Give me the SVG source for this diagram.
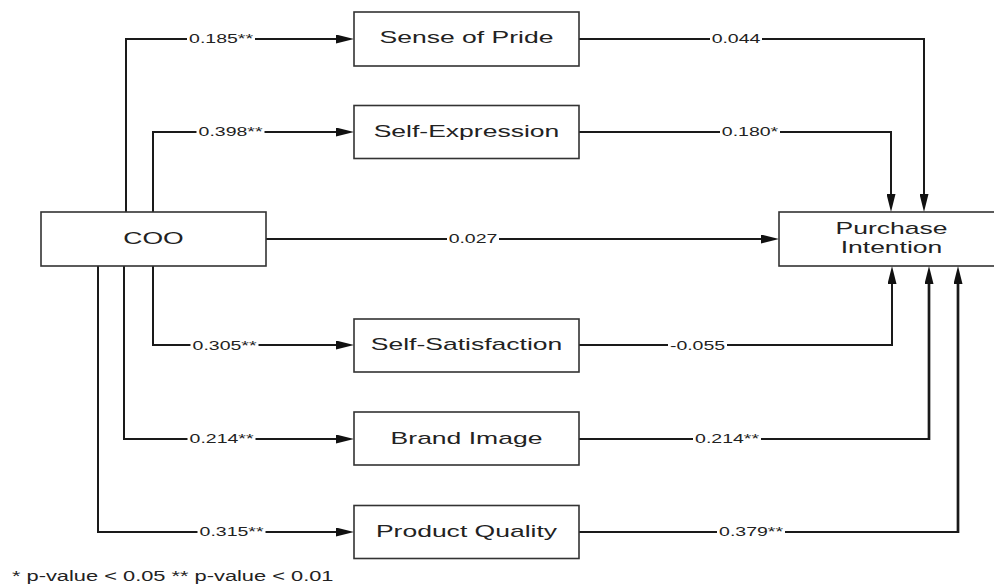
<svg xmlns="http://www.w3.org/2000/svg" width="994" height="584" viewBox="0 0 994 584">
<style>
.node{fill:#fff;stroke:#333;stroke-width:1.6}
.nt{font-family:"Liberation Sans",Arial,sans-serif;font-size:17px;fill:#222;text-anchor:middle}
.el{font-family:"Liberation Sans",Arial,sans-serif;font-size:12.5px;fill:#222;text-anchor:middle}
.ft{font-family:"Liberation Sans",Arial,sans-serif;font-size:14px;fill:#222}
.c{fill:none;stroke:#1a1a1a;stroke-width:2;marker-end:url(#arr)}
.l{fill:none;stroke:#1a1a1a;stroke-width:2}
.thick{stroke-width:2.7}
.bg{fill:#fff}
</style>
<defs>
<marker id="arr" viewBox="0 0 18 9" refX="10" refY="4.5" markerWidth="18" markerHeight="9" markerUnits="userSpaceOnUse" orient="auto">
<path d="M0,0 L18,4.5 L0,9 z" fill="#111"/>
</marker>
</defs>
<rect width="994" height="584" fill="#fff"/>
<g id="connectors">
<path class="c" d="M126,212 V39 H346"/>
<path class="c" d="M153,212 V132 H346"/>
<path class="c" d="M153,266 V345 H346"/>
<path class="c" d="M124,266 V439 H346"/>
<path class="c" d="M98,266 V532 H346"/>
<path class="c" d="M266,239 H771"/>
<path class="c" d="M579,39 H924 V204"/>
<path class="c" d="M579,132 H891 V204"/>
<path class="c" d="M579,345 H892 V274"/>
<path class="l" d="M579,439 H930"/>
<path class="c thick" d="M929,440 V274"/>
<path class="l" d="M579,532 H959"/>
<path class="c thick" d="M958,533 V274"/>
<rect class="bg" x="187" y="34" width="68" height="10"/>
<text class="el" transform="translate(221,43) scale(1.56,1)">0.185**</text>
<rect class="bg" x="196.5" y="127" width="68" height="10"/>
<text class="el" transform="translate(230.5,136) scale(1.56,1)">0.398**</text>
<rect class="bg" x="190.5" y="340" width="68" height="10"/>
<text class="el" transform="translate(224.5,349.5) scale(1.56,1)">0.305**</text>
<rect class="bg" x="187.5" y="434" width="68" height="10"/>
<text class="el" transform="translate(221.5,443) scale(1.56,1)">0.214**</text>
<rect class="bg" x="197.5" y="527" width="68" height="10"/>
<text class="el" transform="translate(231.5,536) scale(1.56,1)">0.315**</text>
<rect class="bg" x="447" y="234" width="52" height="10"/>
<text class="el" transform="translate(473,243) scale(1.56,1)">0.027</text>
<rect class="bg" x="710" y="34" width="52" height="10"/>
<text class="el" transform="translate(736,43) scale(1.56,1)">0.044</text>
<rect class="bg" x="720" y="127" width="60" height="10"/>
<text class="el" transform="translate(750,136) scale(1.56,1)">0.180*</text>
<rect class="bg" x="668" y="340" width="59" height="10"/>
<text class="el" transform="translate(697.5,349.5) scale(1.56,1)">-0.055</text>
<rect class="bg" x="693" y="434" width="68" height="10"/>
<text class="el" transform="translate(727,443) scale(1.56,1)">0.214**</text>
<rect class="bg" x="717" y="527" width="68" height="10"/>
<text class="el" transform="translate(751,536) scale(1.56,1)">0.379**</text>
</g>
<g id="coo">
<rect class="node" x="41" y="212" width="225" height="54"/>
<text class="nt" transform="translate(153.5,243.5) scale(1.56,1)">COO</text>
</g>
<g id="pride">
<rect class="node" x="354" y="12" width="225" height="54"/>
<text class="nt" transform="translate(466.5,43) scale(1.56,1)">Sense of Pride</text>
</g>
<g id="expression">
<rect class="node" x="354" y="105.5" width="225" height="53"/>
<text class="nt" transform="translate(466.5,136.5) scale(1.56,1)">Self-Expression</text>
</g>
<g id="satisfaction">
<rect class="node" x="354" y="319" width="225" height="53"/>
<text class="nt" transform="translate(466.5,350) scale(1.56,1)">Self-Satisfaction</text>
</g>
<g id="brand">
<rect class="node" x="354" y="412" width="225" height="53"/>
<text class="nt" transform="translate(466.5,443.5) scale(1.56,1)">Brand Image</text>
</g>
<g id="quality">
<rect class="node" x="354" y="505.5" width="225" height="53"/>
<text class="nt" transform="translate(466.5,536.5) scale(1.56,1)">Product Quality</text>
</g>
<g id="purchase">
<rect class="node" x="779" y="212" width="225" height="54"/>
<text class="nt" transform="translate(891.5,233.5) scale(1.56,1)">Purchase</text>
<text class="nt" transform="translate(891.5,252.5) scale(1.56,1)">Intention</text>
</g>
<g id="footnote">
<text class="ft" transform="translate(12,581) scale(1.56,1)">* p-value &lt; 0.05 ** p-value &lt; 0.01</text>
</g>
</svg>
